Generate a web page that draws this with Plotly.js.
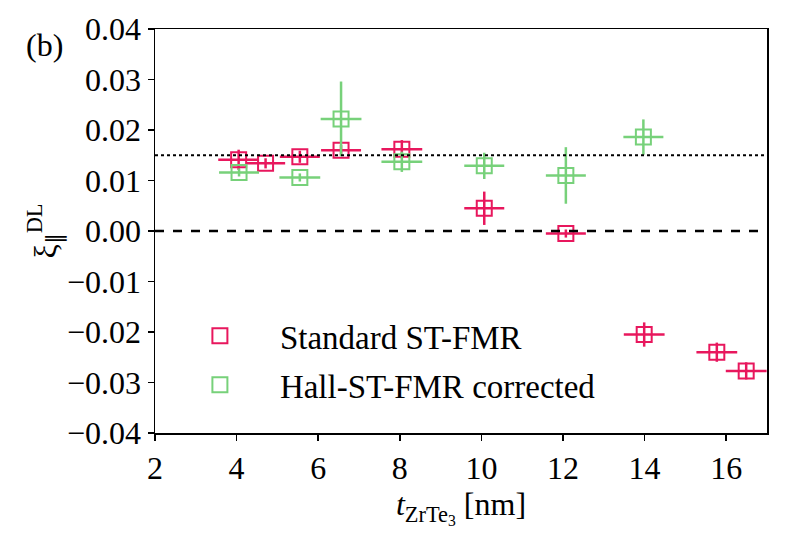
<!DOCTYPE html>
<html>
<head>
<meta charset="utf-8">
<script src="https://cdn.plot.ly/plotly-3.0.1.min.js"></script>
<style>
html,body{margin:0;padding:0;background:#fff;}
#chart{width:789px;height:543px;}
</style>
</head>
<body>
<div id="chart"></div>
<script>
// Standard ST-FMR
const stdX    = [4.05, 4.71, 5.55, 6.56, 8.05, 10.07, 12.07, 13.99, 15.77, 16.49];
const stdY    = [0.0141, 0.0134, 0.0147, 0.0160, 0.0162, 0.0045, -0.0005, -0.0205, -0.0240, -0.0277];
const stdXErr = [0.5, 0.48, 0.49, 0.49, 0.5, 0.49, 0.49, 0.5, 0.5, 0.5];
const stdYErr = [0.0020, 0.0010, 0.0012, 0.0010, 0.0018, 0.0033, 0.0008, 0.0024, 0.0019, 0.0017];
// Hall-ST-FMR corrected
const hallX    = [4.06, 5.55, 6.56, 8.05, 10.07, 12.07, 13.97];
const hallY    = [0.0116, 0.0106, 0.0222, 0.0137, 0.0129, 0.0110, 0.0186];
const hallXErr = [0.49, 0.5, 0.5, 0.5, 0.49, 0.49, 0.49];
const hallYErr = [0.0008, 0.0008, 0.0074, 0.0020, 0.0026, 0.0056, 0.0035];
// reference lines
const dottedLevel = 0.015;
const dashedLevel = 0.0;
const xTicks = [2, 4, 6, 8, 10, 12, 14, 16];
const yTicks = [-0.04, -0.03, -0.02, -0.01, 0, 0.01, 0.02, 0.03, 0.04];

const pink = '#e8175d';
const green = '#77d17a';
const font = 'Liberation Serif';
const fs = 32;

function series(x, y, xe, ye, color, name, grp) {
  return {
    x: x, y: y, name: name, type: 'scatter', mode: 'markers', legendgroup: grp,
    marker: {symbol: 'square-open', size: 15, color: color, line: {width: 2, color: color}},
    error_x: {type: 'data', array: xe, visible: true, color: color, thickness: 2.5, width: 0},
    error_y: {type: 'data', array: ye, visible: true, color: color, thickness: 2.5, width: 0}
  };
}

const traces = [
  series(stdX, stdY, stdXErr, stdYErr, pink, 'Standard ST-FMR', 'a'),
  series(hallX, hallY, hallXErr, hallYErr, green, 'Hall-ST-FMR corrected', 'b')
];

const layout = {
  width: 789, height: 543,
  margin: {l: 155, r: 22, t: 29, b: 110},
  paper_bgcolor: '#fff', plot_bgcolor: '#fff',
  font: {family: font, size: fs, color: '#000'},
  showlegend: true,
  legend: {x: 0.008, y: 0.18, xanchor: 'left', yanchor: 'middle', bgcolor: 'rgba(0,0,0,0)',
           font: {family: font, size: 33}, itemwidth: 110, traceorder: 'grouped', tracegroupgap: 3},
  xaxis: {
    range: [2, 17], tickvals: xTicks, ticktext: xTicks.map(String),
    showgrid: false, zeroline: false, showline: true, linecolor: '#000', linewidth: 1.5, mirror: true,
    ticks: 'outside', ticklen: 6, tickwidth: 1.5, tickcolor: '#000',
    tickfont: {family: font, size: fs},
    title: {text: '<i>t</i><sub>ZrTe<sub>3</sub></sub> [nm]', font: {family: font, size: fs}, standoff: 4}
  },
  yaxis: {
    range: [-0.04, 0.04], tickvals: yTicks, tickformat: '.2f',
    showgrid: false, zeroline: false, showline: true, linecolor: '#000', linewidth: 1.5, mirror: true,
    ticks: 'outside', ticklen: 6, tickwidth: 1.5, tickcolor: '#000',
    tickfont: {family: font, size: fs},
    title: {text: 'ξ<sub>∥</sub><sup>DL</sup>', font: {family: font, size: fs}, standoff: 1}
  },
  shapes: [
    {type: 'line', xref: 'paper', x0: 0, x1: 1, yref: 'y', y0: dottedLevel, y1: dottedLevel,
     line: {color: '#000', width: 2, dash: 'dot'}},
    {type: 'line', xref: 'paper', x0: 0, x1: 1, yref: 'y', y0: dashedLevel, y1: dashedLevel,
     line: {color: '#000', width: 2.5, dash: 'dash'}}
  ],
  annotations: [
    {text: '(b)', xref: 'paper', yref: 'paper', x: -0.18, y: 0.96, xanchor: 'center', yanchor: 'middle',
     showarrow: false, font: {family: font, size: fs}}
  ]
};

Plotly.newPlot('chart', traces, layout, {displayModeBar: false, staticPlot: true});
</script>
</body>
</html>
